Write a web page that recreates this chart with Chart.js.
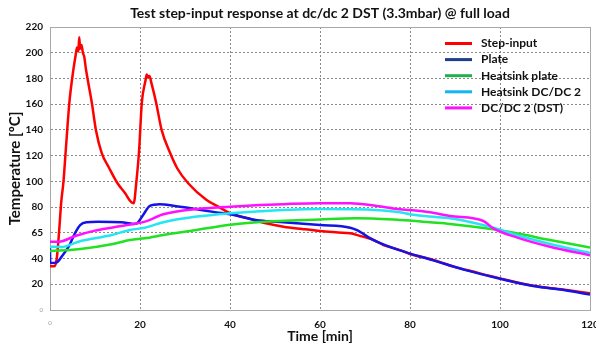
<!DOCTYPE html>
<html>
<head>
<meta charset="utf-8">
<script src="https://cdn.jsdelivr.net/npm/chart.js@4"></script>
<style>
  html, body { margin: 0; padding: 0; background: #fff; }
  #wrap { width: 596px; height: 347px; }
</style>
</head>
<body>
<div id="wrap"><canvas id="stepChart"></canvas></div>
<script>
// Time axis [min] and temperatures [ºC] per sensor
const stepTime = [0, 1, 1.5, 2, 2.5, 3, 3.5, 4.3, 5.2, 5.7, 6.0, 6.3, 6.5, 6.7, 7.0, 7.3, 7.6, 8, 9.3, 10.2, 11.5, 13.2, 15, 16.7, 18, 18.6, 19.2, 19.8, 20.4, 21.2, 21.5, 21.8, 22.1, 22.5, 23.6, 24.8, 26.7, 28.3, 30.7, 34.8, 37.4, 40, 43.7, 48, 51.9, 56, 60, 64, 66.7, 68.5, 71.9, 74.1, 77.8, 80, 85.2, 89.6, 92.6, 100, 107.4, 114.8, 120];
const stepTemp = [34, 34, 40, 60, 84, 100, 124, 161, 187, 198, 204, 201, 212, 203, 206, 200, 197, 187, 161, 140, 122, 110, 98.5, 90.7, 84, 83, 100, 124, 161, 178, 183, 181, 182, 177, 161, 140, 122, 110, 98.5, 85.5, 80.3, 75.2, 71.5, 67.4, 64.8, 63, 61.4, 60.3, 59.6, 58, 54.4, 50.5, 46.6, 43.5, 38.9, 33.7, 31.1, 24.6, 18.9, 15.6, 13];

const plateTime = [0, 0.05, 1.5, 2.6, 4.1, 5.6, 6.7, 8.1, 10.7, 15.9, 18.5, 19.3, 20.7, 22.2, 24.4, 27.4, 32.6, 37, 40, 46.7, 51.9, 60, 66.7, 68.1, 71.9, 77.8, 85.2, 92.6, 100, 107.4, 114.8, 120];
const plateTemp = [48, 36.5, 37, 41.5, 49, 60, 66, 68.2, 68.6, 68.2, 66.9, 67.4, 73.9, 80.9, 82.2, 81.1, 78.3, 75.9, 74.4, 69.5, 68.2, 66.1, 64, 62.2, 54.4, 46.3, 38.6, 30.8, 24.3, 18.6, 15.2, 12];

const hsPlateTime = [0, 6.3, 13.7, 17.8, 21.1, 25.2, 32.6, 40, 46.7, 60, 68.1, 77.8, 80, 84.4, 88.9, 98.5, 103.7, 111.1, 120];
const hsPlateTemp = [45.9, 47.2, 51.1, 54.4, 55.7, 58.3, 62.2, 66.2, 68.4, 70.4, 71.3, 70, 69.5, 68.2, 66.9, 62.7, 59.6, 54.4, 48.5];

const hsDcTime = [0, 2.6, 6.3, 13.7, 17.8, 21.1, 25.2, 32.6, 40, 46.7, 60, 70.4, 77.8, 80, 84.4, 88.9, 98.5, 103.7, 111.1, 120];
const hsDcTemp = [49.2, 49, 53.1, 58.3, 62.2, 64, 68.2, 72.6, 75.2, 76.8, 78.5, 78.2, 76, 74.4, 72.6, 71.3, 64, 58.3, 51.3, 44.3];

const dstTime = [0, 2, 5.6, 10, 13.7, 18.1, 21.1, 25.2, 32.6, 40, 46.7, 52, 60, 66.7, 72.6, 77.8, 80, 84.4, 88.9, 96.3, 98.5, 103.7, 111.1, 120];
const dstTemp = [53.1, 53.1, 57.5, 61.7, 64, 66.6, 68.7, 74.4, 78.5, 80.3, 81.6, 82.3, 83, 83, 80.9, 78.3, 77.8, 76, 73.1, 69.2, 63.5, 56.5, 49.2, 42.5];

const seriesNames = ['Step-input', 'Plate', 'Heatsink plate', 'Heatsink DC/DC 2', 'DC/DC 2 (DST)'];
const yTickLabels = ['0', '20', '40', '65', '80', '100', '120', '140', '160', '180', '200', '220'];
const xTickLabels = ['0', '20', '40', '60', '80', '100', '120'];
const chartTitle = 'Test step-input response at dc/dc 2 DST (3.3mbar) @ full load';

const lineColors = ['#ff0000', '#1414e6', '#22e022', '#22e6f2', '#ff10ff'];
const legendColors = ['#ff0000', '#1f3f86', '#22b04c', '#14b4f0', '#ff10ff'];

const FONT = 'Lato, "Open Sans", sans-serif';

function toPoints(ts, vs) {
    return ts.map((t, i) => ({ x: t, y: vs[i] }));
}

const seriesData = [
    toPoints(stepTime, stepTemp),
    toPoints(plateTime, plateTemp),
    toPoints(hsPlateTime, hsPlateTemp),
    toPoints(hsDcTime, hsDcTemp),
    toPoints(dstTime, dstTemp)
];

// draw order: background lines first, step-input last on top of plate
const drawOrder = [4, 3, 2, 1, 0];

const datasets = seriesNames.map((name, i) => ({
    label: name,
    data: seriesData[i],
    borderColor: lineColors[i],
    borderWidth: 2.5,
    pointRadius: 0,
    cubicInterpolationMode: 'monotone',
    fill: false,
    order: drawOrder[i]
}));

// the "0" labels are tiny and grey, the rest bold
const isZero = ctx => ctx.tick && ctx.tick.value === 0;
const tickColor = ctx => isZero(ctx) ? '#999' : '#111';
const tickFont = ctx => isZero(ctx)
    ? { family: FONT, size: 6 }
    : { family: FONT, size: 10, weight: 'bold' };

// frame, title centred over the plot, legend inside top right of the plot
const framePlugin = {
    id: 'frame',
    beforeDatasetsDraw(chart) {
        const { ctx, chartArea: a } = chart;
        ctx.save();
        ctx.strokeStyle = '#a8a8a8';
        ctx.lineWidth = 1;
        ctx.strokeRect(a.left + 0.5, a.top + 0.5, a.right - a.left, a.bottom - a.top);
        ctx.restore();
    },
    afterDraw(chart) {
        const { ctx, chartArea: a } = chart;
        ctx.save();
        ctx.fillStyle = '#111';
        ctx.textBaseline = 'middle';
        ctx.textAlign = 'center';
        ctx.font = 'bold 14px ' + FONT;
        ctx.fillText(chartTitle, (a.left + a.right) / 2, 13);

        ctx.textAlign = 'left';
        ctx.font = 'bold 12px ' + FONT;
        seriesNames.forEach((name, i) => {
            const y = a.top + 16.5 + i * 16.1;
            const x0 = a.right - 145;
            ctx.strokeStyle = legendColors[i];
            ctx.lineWidth = 3;
            ctx.beginPath();
            ctx.moveTo(x0, y);
            ctx.lineTo(x0 + 27, y);
            ctx.stroke();
            ctx.fillText(name, x0 + 36, y);
        });
        ctx.restore();
    }
};

// dotted grey grid
const gridStyle = {
    color: '#8a8a8a',
    lineWidth: 1,
    borderDash: [2, 2],
    drawTicks: false
};

new Chart(document.getElementById('stepChart').getContext('2d'), {
    type: 'line',
    data: { datasets: datasets },
    options: {
        responsive: true,
        maintainAspectRatio: false,
        animation: false,
        layout: { padding: { left: 0, right: 6, top: 27, bottom: 0 } },
        plugins: {
            legend: { display: false },
            tooltip: { enabled: false },
            title: { display: false }
        },
        scales: {
            x: {
                type: 'linear',
                min: 0,
                max: 120,
                ticks: {
                    stepSize: 20,
                    padding: 9,
                    color: tickColor,
                    font: tickFont,
                    callback: (v, i) => xTickLabels[i]
                },
                grid: gridStyle,
                border: { display: true, color: '#a0a0a0', dash: [2, 2] },
                title: {
                    display: true,
                    text: 'Time [min]',
                    color: '#111',
                    font: { family: FONT, size: 14, weight: 'bold', lineHeight: 1.2 },
                    padding: { top: 0, bottom: 2 }
                },
                afterFit(scale) {
                    scale.height = 37;
                    scale.paddingLeft = 0;
                    scale.paddingRight = 0;
                }
            },
            y: {
                min: 0,
                max: 220,
                ticks: {
                    stepSize: 20,
                    padding: 7,
                    color: tickColor,
                    font: tickFont,
                    callback: (v, i) => yTickLabels[i]
                },
                grid: gridStyle,
                border: { display: true, color: '#a0a0a0', dash: [2, 2] },
                title: {
                    display: true,
                    text: 'Temperature [ºC]',
                    color: '#111',
                    font: { family: FONT, size: 15, weight: 'bold', lineHeight: 1.2 },
                    padding: { top: 6, bottom: 0 }
                },
                afterFit(scale) {
                    scale.width = 50;
                    scale.paddingTop = 0;
                    scale.paddingBottom = 0;
                }
            }
        }
    },
    plugins: [framePlugin]
});
</script>
</body>
</html>
